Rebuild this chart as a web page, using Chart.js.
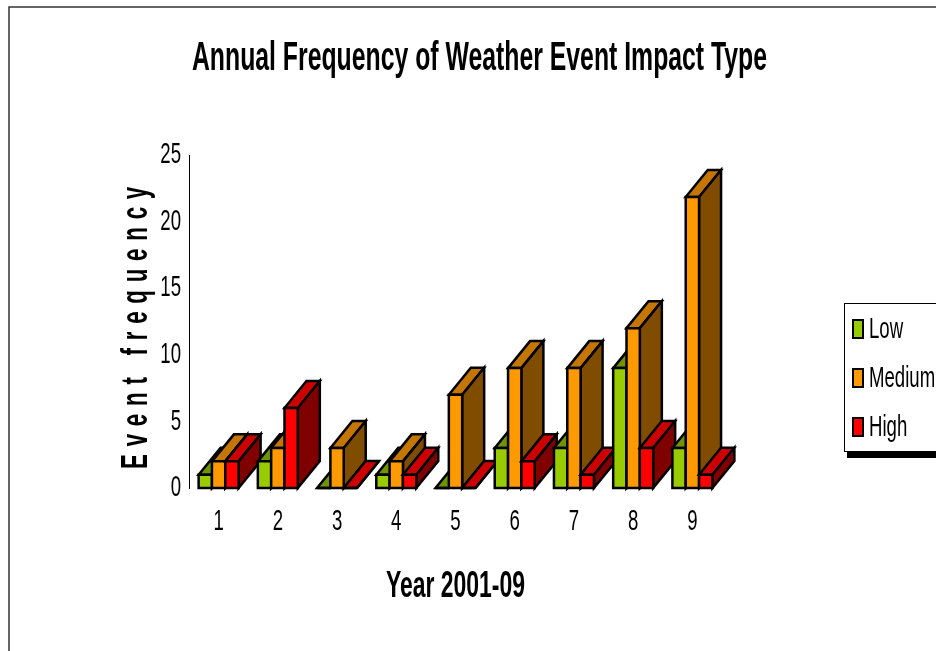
<!DOCTYPE html>
<html>
<head>
<meta charset="utf-8">
<title>Annual Frequency of Weather Event Impact Type</title>
<script src="https://cdn.jsdelivr.net/npm/chart.js@4"></script>
<style>
html, body { margin: 0; padding: 0; background: #fff; overflow: hidden; }
canvas { display: block; }
</style>
</head>
<body>
<canvas id="chart" width="936" height="651"></canvas>
<script>
var years = ['1', '2', '3', '4', '5', '6', '7', '8', '9'];
var low = [1, 2, 0, 1, 0, 3, 3, 9, 3];
var medium = [2, 3, 3, 2, 7, 9, 9, 12, 21.85];
var high = [2, 6, 0, 1, 0, 2, 1, 3, 1];
var seriesNames = ['Low', 'Medium', 'High'];
var frontColors = ['#99cc00', '#ff9900', '#ff0000'];
var topColors = ['#6f9400', '#c47600', '#cc0000'];
var sideColors = ['#4d6600', '#804d00', '#800000'];

var depthX = 22, depthY = 27;
var fontName = '"Liberation Sans", Arial, sans-serif';

var canvas = document.getElementById('chart');
var ctx = canvas.getContext('2d');

// the original text is squeezed sideways, so every label is drawn narrower
var plainFillText = ctx.fillText;
ctx.fillText = function (text, x, y) {
    this.save();
    this.translate(x, y);
    this.scale(0.62, 1);
    plainFillText.call(this, text, 0, 0);
    this.restore();
};

function poly(c, pts, fill) {
    c.beginPath();
    c.moveTo(pts[0][0], pts[0][1]);
    for (var i = 1; i < pts.length; i++) c.lineTo(pts[i][0], pts[i][1]);
    c.closePath();
    c.fillStyle = fill;
    c.fill();
    c.stroke();
}

// bars with depth, drawn year by year so the nearer faces cover the older ones
var bars3d = {
    id: 'bars3d',
    beforeDatasetsDraw: function (chart) {
        var c = chart.ctx;
        c.save();
        c.strokeStyle = '#000';
        c.lineWidth = 2.5;
        c.lineJoin = 'miter';
        years.forEach(function (year, i) {
            chart.data.datasets.forEach(function (ds, d) {
                var el = chart.getDatasetMeta(d).data[i];
                var l = el.x - el.width / 2, r = el.x + el.width / 2;
                var t = el.y, b = el.base;
                poly(c, [[l, t], [l + depthX, t - depthY], [r + depthX, t - depthY], [r, t]], topColors[d]);
                poly(c, [[r, t], [r + depthX, t - depthY], [r + depthX, b - depthY], [r, b]], sideColors[d]);
                poly(c, [[l, t], [r, t], [r, b], [l, b]], ds.backgroundColor);
            });
        });
        c.restore();
        return false;
    }
};

// page frame, spaced y axis title and the legend box
var extras = {
    id: 'extras',
    afterLayout: function (chart) {
        chart.titleBlock.left += 118.5;
        chart.titleBlock.right += 118.5;
    },
    afterDraw: function (chart) {
        var c = chart.ctx;
        c.save();
        c.strokeStyle = '#333';
        c.lineWidth = 1.5;
        c.beginPath();
        c.moveTo(9, 651);
        c.lineTo(9, 7);
        c.lineTo(936, 7);
        c.stroke();

        c.save();
        c.translate(147, 324);
        c.rotate(-Math.PI / 2);
        c.font = 'bold 36px ' + fontName;
        c.letterSpacing = '12.5px';
        c.fillStyle = '#000';
        c.textAlign = 'center';
        c.textBaseline = 'alphabetic';
        c.fillText('Event frequency', 0, 0);
        c.restore();

        c.fillStyle = '#000';
        c.fillRect(847, 452, 89, 6);
        c.fillStyle = '#fff';
        c.strokeStyle = '#000';
        c.lineWidth = 1;
        c.fillRect(844.5, 303.5, 92, 148);
        c.strokeRect(844.5, 303.5, 92, 148);
        c.font = '30px ' + fontName;
        c.textAlign = 'left';
        c.textBaseline = 'middle';
        c.lineWidth = 2;
        seriesNames.forEach(function (name, d) {
            var y = 329 + d * 49;
            c.fillStyle = frontColors[d];
            c.fillRect(853, y - 9, 10, 18);
            c.strokeRect(853, y - 9, 10, 18);
            c.fillStyle = '#000';
            c.fillText(name, 869, y + 1);
        });
        c.restore();
    }
};

new Chart(ctx, {
    type: 'bar',
    data: {
        labels: years,
        datasets: [low, medium, high].map(function (values, d) {
            return {
                label: seriesNames[d],
                data: values,
                backgroundColor: frontColors[d],
                categoryPercentage: 0.675,
                barPercentage: 1
            };
        })
    },
    options: {
        responsive: false,
        animation: false,
        layout: { padding: { right: 214 } },
        plugins: {
            legend: { display: false },
            tooltip: { enabled: false },
            title: {
                display: true,
                text: 'Annual Frequency of Weather Event Impact Type',
                color: '#000',
                font: { family: fontName, size: 40, weight: 'bold' },
                padding: { top: 35, bottom: 72 }
            }
        },
        scales: {
            x: {
                grid: { display: false, drawTicks: false },
                border: { display: false },
                ticks: { color: '#000', font: { family: fontName, size: 30 }, padding: 16, maxRotation: 0 },
                title: {
                    display: true,
                    text: 'Year 2001-09',
                    color: '#000',
                    font: { family: fontName, size: 37, weight: 'bold' },
                    padding: { top: 22, bottom: 42 }
                },
                afterFit: function (scale) { scale.height = 163; }
            },
            y: {
                min: 0,
                max: 25,
                grid: { display: false, drawOnChartArea: false, drawTicks: true, tickLength: 5, tickColor: '#000' },
                border: { display: true, color: '#000', width: 1 },
                ticks: { stepSize: 5, color: '#000', font: { family: fontName, size: 30 }, padding: 3 },
                afterFit: function (scale) { scale.width = 189; }
            }
        }
    },
    plugins: [bars3d, extras]
});
</script>
</body>
</html>
